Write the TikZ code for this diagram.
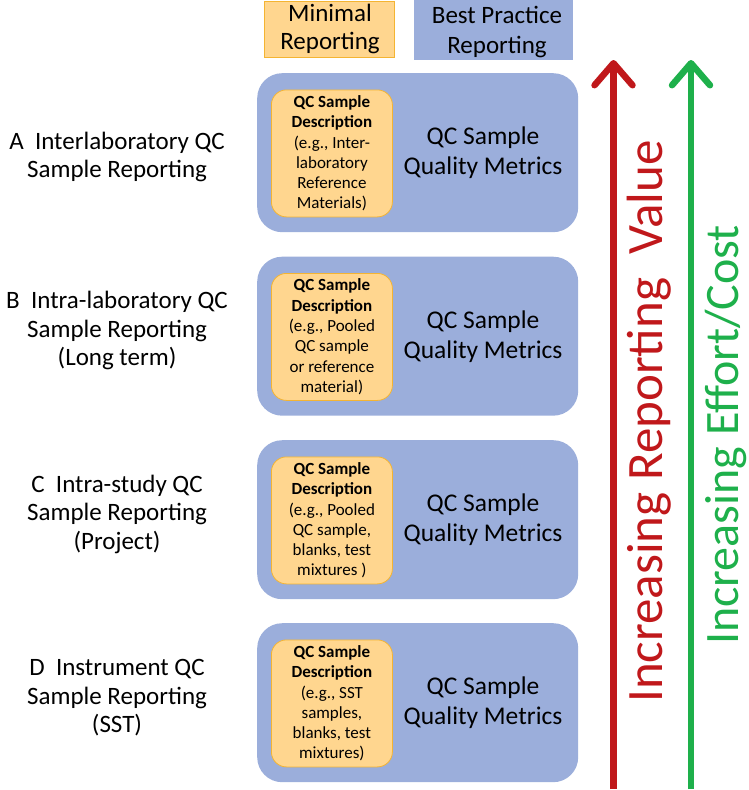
\documentclass[tikz,border=0pt]{standalone}
\usepackage{fontspec}
\setmainfont{Carlito}
\usetikzlibrary{arrows.meta}
\definecolor{bluefill}{RGB}{155,174,219}
\definecolor{orfill}{RGB}{255,214,143}
\definecolor{ordraw}{RGB}{244,180,50}
\definecolor{redA}{RGB}{192,24,27}
\definecolor{greenA}{RGB}{30,176,75}
\tikzset{
  bigbox/.style={fill=bluefill, draw=none, rounded corners=25pt, minimum width=321pt, minimum height=159pt, anchor=north west, inner sep=0pt},
  innerbox/.style={fill=orfill, draw=ordraw, line width=0.8pt, rounded corners=15pt, minimum width=121pt, minimum height=127pt, anchor=north west, inner sep=0pt},
  innertxt/.style={align=center, font=\fontsize{17}{20.3}\selectfont, inner sep=0pt},
  metrics/.style={align=center, font=\fontsize{25.5}{30}\selectfont, inner sep=0pt},
  leftlab/.style={align=center, font=\fontsize{25}{28.5}\selectfont, inner sep=0pt},
  header/.style={align=center, inner sep=0pt},
  bigarrow/.style={line width=6.5pt, -{Straight Barb[length=22pt, width=38pt, round]}},
  vlabel/.style={rotate=90, inner sep=0pt, anchor=base west}
}
\begin{document}
\begin{tikzpicture}[x=1pt,y=-1pt]
\useasboundingbox (0,0) rectangle (749,790);
% headers
\node[fill=orfill, draw=ordraw, line width=0.8pt, minimum width=130pt, minimum height=56pt, anchor=north west, inner sep=0pt] (hmin) at (263.5,0.5) {};
\node[header, font=\fontsize{25}{28}\selectfont] (hmintxt) at (330,29) {Minimal\\Reporting};
\node[fill=bluefill, draw=none, minimum width=159pt, minimum height=60pt, anchor=north west, inner sep=0pt] (hbest) at (414,0) {};
\node[header, font=\fontsize{25}{30}\selectfont] (hbesttxt) at (497,32) {Best Practice\\Reporting};
% rows
\foreach \n/\y/\off/\txt/\lab in {
  A/73/84/{(e.g., Inter-\\laboratory\\Reference\\Materials)}/{A\ \ Interlaboratory QC\\Sample Reporting},
  B/256.5/74/{(e.g., Pooled\\QC sample\\or reference\\material)}/{B\ \ Intra-laboratory QC\\Sample Reporting\\(Long term)},
  C/440/74/{(e.g., Pooled\\QC sample,\\blanks, test\\mixtures )}/{C\ \ Intra-study QC\\Sample Reporting\\(Project)},
  D/623/75/{(e.g., SST\\samples,\\blanks, test\\mixtures)}/{D\ \ Instrument QC\\Sample Reporting\\(SST)}}{
  \node[bigbox] (box\n) at (257,\y) {};
  \node[innerbox] (in\n) at (271,\y+16.5) {};
  \node[innertxt] (intxt\n) at (in\n.center) {\textbf{QC Sample}\\\textbf{Description}\\\txt};
  \node[metrics] (met\n) at (483,\y+80) {QC Sample\\Quality Metrics};
  \node[leftlab] (lab\n) at (117,\y+\off) {\lab};
}
% arrows
\coordinate (r0) at (613.5,789);
\coordinate (r1) at (613.5,60);
\coordinate (g0) at (691,789);
\coordinate (g1) at (691,60);
\draw[bigarrow, redA] (r0) -- (r1);
\draw[bigarrow, greenA] (g0) -- (g1);
\node[vlabel, text=redA, font=\fontsize{51}{55}\selectfont] (rlab) at (662,703) {Increasing Reporting\ \ Value};
\node[vlabel, text=greenA, font=\fontsize{48}{52}\selectfont] (glab) at (738,645) {Increasing Effort/Cost};
\end{tikzpicture}
\end{document}
